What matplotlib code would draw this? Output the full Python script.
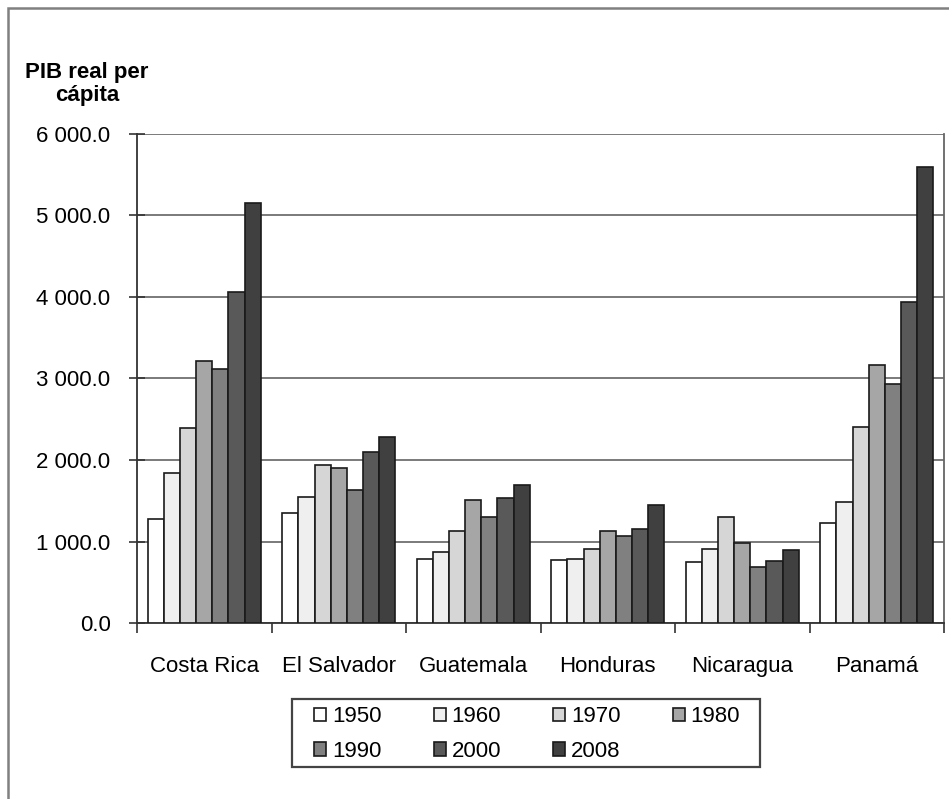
import numpy as np
import matplotlib as mpl
mpl.use("Agg")
import matplotlib.pyplot as plt
import matplotlib.ticker as ticker
from matplotlib.patches import Rectangle

plt.rcParams['font.family'] = ['Liberation Sans', 'DejaVu Sans']

paises = ['Costa Rica', 'El Salvador', 'Guatemala', 'Honduras', 'Nicaragua', 'Panamá']
anios = ['1950', '1960', '1970', '1980', '1990', '2000', '2008']

v1950 = [1270, 1350, 785, 773, 750, 1227]
v1960 = [1840, 1546, 870, 785, 908, 1485]
v1970 = [2395, 1940, 1130, 908, 1300, 2405]
v1980 = [3215, 1900, 1510, 1130, 980, 3166]
v1990 = [3120, 1630, 1300, 1067, 690, 2933]
v2000 = [4065, 2100, 1530, 1153, 760, 3939]
v2008 = [5150, 2280, 1690, 1448, 896, 5590]
series = [v1950, v1960, v1970, v1980, v1990, v2000, v2008]

grises = ['#ffffff', '#efefef', '#d6d6d6', '#a6a6a6', '#808080', '#595959', '#404040']

W, H = 949, 799
fig = plt.figure(figsize=(W / 100, H / 100), dpi=100)
ax = fig.add_axes([137 / W, 1 - 623 / H, (944 - 137) / W, (623 - 134) / H])

x = np.arange(len(paises))
w = 0.12
barras = []
for i, (s, c) in enumerate(zip(series, grises)):
    b = ax.bar(x + (i - 3) * w, s, w, color=c, edgecolor='#1a1a1a', linewidth=1.2,
               label=anios[i], zorder=3)
    barras.append(b)

ax.set_xlim(-0.5, len(paises) - 0.5)
ax.set_ylim(0, 6000)
ax.yaxis.set_major_locator(ticker.MultipleLocator(1000))
ax.yaxis.set_major_formatter(ticker.FuncFormatter(
    lambda v, p: '{:,.1f}'.format(v).replace(',', ' ')))
ax.grid(axis='y', color='#7a7a7a', linewidth=1.4, zorder=0)

ax.set_xticks(x)
ax.set_xticklabels(paises)
ax.set_xticks(np.arange(-0.5, len(paises)), minor=True)
ax.tick_params(axis='x', which='major', length=0, pad=24, labelsize=16)
ax.tick_params(axis='x', which='minor', length=7, width=1.2, color='#333333')
ax.tick_params(axis='y', direction='inout', length=12, width=1.2, color='#333333',
               labelsize=16, pad=13)

ax.spines['top'].set_visible(False)
for side in ['left', 'bottom', 'right']:
    ax.spines[side].set_color('#333333')
    ax.spines[side].set_linewidth(1.3)
ax.spines['right'].set_color('#666666')

fig.text(87 / W, 1 - 84 / H, 'PIB real per\ncápita', ha='center', va='center',
         fontsize=16, fontweight='bold', linespacing=1.15)

# leyenda por filas: 1950 1960 1970 1980 / 1990 2000 2008
orden = [0, 4, 1, 5, 2, 6, 3]
leg = fig.legend([barras[k] for k in orden], [anios[k] for k in orden],
                 loc='center', bbox_to_anchor=(527 / W, 1 - 734 / H), ncol=4,
                 frameon=False, fontsize=16, handlelength=0.55, handleheight=0.55,
                 handletextpad=0.25, columnspacing=2.35, borderpad=0,
                 labelspacing=0.62)
fig.patches.append(Rectangle((292 / W, 1 - 767 / H), 468 / W, 68 / H,
                             transform=fig.transFigure, fill=False,
                             edgecolor='#444444', linewidth=1.6))

fig.patches.append(Rectangle((7.5 / W, -0.1), 1.0, 1.1 - 8 / H,
                             transform=fig.transFigure, fill=False,
                             edgecolor='#808080', linewidth=1.8))

fig.savefig('out.png', dpi=100)
